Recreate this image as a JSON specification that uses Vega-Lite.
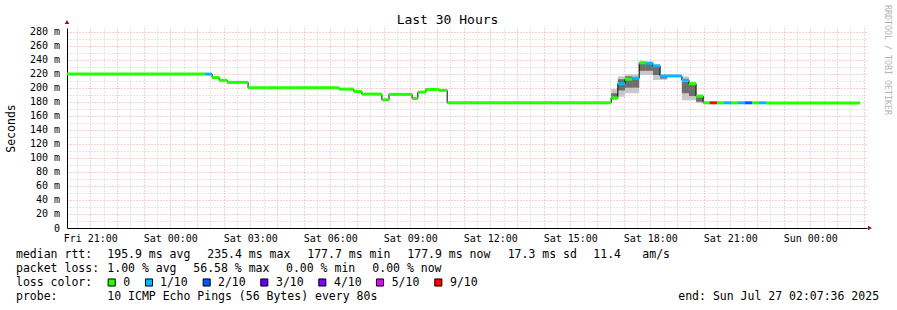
{
  "$schema": "https://vega.github.io/schema/vega-lite/v6.json",
  "width": 800,
  "height": 200,
  "autosize": {"type": "none"},
  "padding": {"left": 67, "top": 28, "right": 30, "bottom": 82},
  "background": "white",
  "title": {"text": "Last 30 Hours", "anchor": "middle", "frame": "group", "dx": -19.5, "offset": -22.2, "font": "DejaVu Sans Mono", "fontSize": 13, "fontWeight": "normal", "color": "#000000"},
  "config": {"view": {"stroke": null}, "font": "DejaVu Sans Mono"},
  "datasets": {
    "seg": [
      {"t0": "2025-07-25T20:07:36", "t1": "2025-07-26T01:18:00", "v": 219.3, "loss": "0"},
      {"t0": "2025-07-26T01:18:00", "t1": "2025-07-26T01:34:00", "v": 219.3, "loss": "1/10"},
      {"t0": "2025-07-26T01:34:00", "t1": "2025-07-26T01:50:00", "v": 214.5, "loss": "0"},
      {"t0": "2025-07-26T01:50:00", "t1": "2025-07-26T02:08:00", "v": 210.5, "loss": "0"},
      {"t0": "2025-07-26T02:08:00", "t1": "2025-07-26T02:55:00", "v": 207.5, "loss": "0"},
      {"t0": "2025-07-26T02:55:00", "t1": "2025-07-26T06:20:00", "v": 199.8, "loss": "0"},
      {"t0": "2025-07-26T06:20:00", "t1": "2025-07-26T06:53:00", "v": 197.9, "loss": "0"},
      {"t0": "2025-07-26T06:53:00", "t1": "2025-07-26T07:11:00", "v": 194.5, "loss": "0"},
      {"t0": "2025-07-26T07:11:00", "t1": "2025-07-26T07:56:00", "v": 190.8, "loss": "0"},
      {"t0": "2025-07-26T07:56:00", "t1": "2025-07-26T08:12:00", "v": 182.7, "loss": "0"},
      {"t0": "2025-07-26T08:12:00", "t1": "2025-07-26T09:04:00", "v": 190.4, "loss": "0"},
      {"t0": "2025-07-26T09:04:00", "t1": "2025-07-26T09:17:00", "v": 184.6, "loss": "0"},
      {"t0": "2025-07-26T09:17:00", "t1": "2025-07-26T09:35:00", "v": 193.6, "loss": "0"},
      {"t0": "2025-07-26T09:35:00", "t1": "2025-07-26T10:05:00", "v": 197.5, "loss": "0"},
      {"t0": "2025-07-26T10:05:00", "t1": "2025-07-26T10:23:00", "v": 196.1, "loss": "0"},
      {"t0": "2025-07-26T10:23:00", "t1": "2025-07-26T16:32:00", "v": 178.4, "loss": "0"},
      {"t0": "2025-07-26T16:32:00", "t1": "2025-07-26T16:47:00", "v": 185.5, "loss": "0"},
      {"t0": "2025-07-26T16:47:00", "t1": "2025-07-26T17:03:00", "v": 205.6, "loss": "1/10"},
      {"t0": "2025-07-26T17:03:00", "t1": "2025-07-26T17:19:00", "v": 212.0, "loss": "0"},
      {"t0": "2025-07-26T17:19:00", "t1": "2025-07-26T17:35:00", "v": 213.4, "loss": "1/10"},
      {"t0": "2025-07-26T17:35:00", "t1": "2025-07-26T17:50:00", "v": 235.4, "loss": "0"},
      {"t0": "2025-07-26T17:50:00", "t1": "2025-07-26T18:06:00", "v": 234.8, "loss": "1/10"},
      {"t0": "2025-07-26T18:06:00", "t1": "2025-07-26T18:22:00", "v": 231.0, "loss": "1/10"},
      {"t0": "2025-07-26T18:22:00", "t1": "2025-07-26T19:11:00", "v": 216.7, "loss": "1/10"},
      {"t0": "2025-07-26T19:11:00", "t1": "2025-07-26T19:27:00", "v": 210.6, "loss": "1/10"},
      {"t0": "2025-07-26T19:27:00", "t1": "2025-07-26T19:43:00", "v": 205.6, "loss": "0"},
      {"t0": "2025-07-26T19:43:00", "t1": "2025-07-26T19:59:00", "v": 187.8, "loss": "0"},
      {"t0": "2025-07-26T19:59:00", "t1": "2025-07-26T20:14:00", "v": 178.4, "loss": "0"},
      {"t0": "2025-07-26T20:14:00", "t1": "2025-07-26T20:30:00", "v": 178.4, "loss": "9/10"},
      {"t0": "2025-07-26T20:30:00", "t1": "2025-07-26T20:46:00", "v": 178.4, "loss": "0"},
      {"t0": "2025-07-26T20:46:00", "t1": "2025-07-26T21:02:00", "v": 178.4, "loss": "1/10"},
      {"t0": "2025-07-26T21:02:00", "t1": "2025-07-26T21:17:00", "v": 178.4, "loss": "0"},
      {"t0": "2025-07-26T21:17:00", "t1": "2025-07-26T21:33:00", "v": 178.4, "loss": "1/10"},
      {"t0": "2025-07-26T21:33:00", "t1": "2025-07-26T21:49:00", "v": 178.4, "loss": "2/10"},
      {"t0": "2025-07-26T21:49:00", "t1": "2025-07-26T22:05:00", "v": 178.4, "loss": "0"},
      {"t0": "2025-07-26T22:05:00", "t1": "2025-07-26T22:21:00", "v": 178.4, "loss": "1/10"},
      {"t0": "2025-07-26T22:21:00", "t1": "2025-07-27T01:52:00", "v": 178.0, "loss": "0"}
    ],
    "smoke": [
      {"t0": "2025-07-26T16:32:00", "t1": "2025-07-26T16:47:00", "v": 182, "v2": 198, "band": "outer"},
      {"t0": "2025-07-26T16:47:00", "t1": "2025-07-26T17:03:00", "v": 187, "v2": 216, "band": "outer"},
      {"t0": "2025-07-26T17:03:00", "t1": "2025-07-26T17:19:00", "v": 192, "v2": 219, "band": "outer"},
      {"t0": "2025-07-26T17:19:00", "t1": "2025-07-26T17:35:00", "v": 192, "v2": 219, "band": "outer"},
      {"t0": "2025-07-26T17:35:00", "t1": "2025-07-26T17:50:00", "v": 218, "v2": 238, "band": "outer"},
      {"t0": "2025-07-26T17:50:00", "t1": "2025-07-26T18:06:00", "v": 218, "v2": 237, "band": "outer"},
      {"t0": "2025-07-26T18:06:00", "t1": "2025-07-26T18:22:00", "v": 211, "v2": 233, "band": "outer"},
      {"t0": "2025-07-26T18:22:00", "t1": "2025-07-26T18:38:00", "v": 211, "v2": 217, "band": "outer"},
      {"t0": "2025-07-26T19:11:00", "t1": "2025-07-26T19:27:00", "v": 182, "v2": 216, "band": "outer"},
      {"t0": "2025-07-26T19:27:00", "t1": "2025-07-26T19:43:00", "v": 182, "v2": 208, "band": "outer"},
      {"t0": "2025-07-26T19:43:00", "t1": "2025-07-26T19:59:00", "v": 178, "v2": 190, "band": "outer"},
      {"t0": "2025-07-26T16:32:00", "t1": "2025-07-26T16:47:00", "v": 184, "v2": 192, "band": "inner"},
      {"t0": "2025-07-26T16:47:00", "t1": "2025-07-26T17:03:00", "v": 196, "v2": 212, "band": "inner"},
      {"t0": "2025-07-26T17:03:00", "t1": "2025-07-26T17:19:00", "v": 200, "v2": 216, "band": "inner"},
      {"t0": "2025-07-26T17:19:00", "t1": "2025-07-26T17:35:00", "v": 200, "v2": 215, "band": "inner"},
      {"t0": "2025-07-26T17:35:00", "t1": "2025-07-26T17:50:00", "v": 224, "v2": 235, "band": "inner"},
      {"t0": "2025-07-26T17:50:00", "t1": "2025-07-26T18:06:00", "v": 224, "v2": 234, "band": "inner"},
      {"t0": "2025-07-26T18:06:00", "t1": "2025-07-26T18:22:00", "v": 218, "v2": 230, "band": "inner"},
      {"t0": "2025-07-26T18:22:00", "t1": "2025-07-26T18:38:00", "v": 213, "v2": 216, "band": "inner"},
      {"t0": "2025-07-26T19:11:00", "t1": "2025-07-26T19:27:00", "v": 192, "v2": 208, "band": "inner"},
      {"t0": "2025-07-26T19:27:00", "t1": "2025-07-26T19:43:00", "v": 188, "v2": 204, "band": "inner"},
      {"t0": "2025-07-26T19:43:00", "t1": "2025-07-26T19:59:00", "v": 180, "v2": 188, "band": "inner"}
    ],
    "arrows": [
      {"t0": "2025-07-25T20:07:36", "v": 293.5, "dir": "up"},
      {"t0": "2025-07-27T02:14:20", "v": 0, "dir": "right"}
    ],
    "legendText": [
      {"row": 1, "col": 0, "text": "median rtt:"},
      {"row": 1, "col": 13.04, "text": "195.9 ms avg"},
      {"row": 1, "col": 27.33, "text": "235.4 ms max"},
      {"row": 1, "col": 41.61, "text": "177.7 ms min"},
      {"row": 1, "col": 55.9, "text": "177.9 ms now"},
      {"row": 1, "col": 70.24, "text": "17.3 ms sd"},
      {"row": 1, "col": 82.47, "text": "11.4"},
      {"row": 1, "col": 89.47, "text": "am/s"},
      {"row": 2, "col": 0, "text": "packet loss:"},
      {"row": 2, "col": 13.04, "text": "1.00 % avg"},
      {"row": 2, "col": 25.33, "text": "56.58 % max"},
      {"row": 2, "col": 38.57, "text": "0.00 % min"},
      {"row": 2, "col": 50.9, "text": "0.00 % now"},
      {"row": 3, "col": 0, "text": "loss color:"},
      {"row": 3, "col": 15.33, "text": "0"},
      {"row": 3, "col": 20.57, "text": "1/10"},
      {"row": 3, "col": 28.86, "text": "2/10"},
      {"row": 3, "col": 37.14, "text": "3/10"},
      {"row": 3, "col": 45.43, "text": "4/10"},
      {"row": 3, "col": 53.67, "text": "5/10"},
      {"row": 3, "col": 62, "text": "9/10"},
      {"row": 4, "col": 0, "text": "probe:"},
      {"row": 4, "col": 13.04, "text": "10 ICMP Echo Pings (56 Bytes) every 80s"},
      {"row": 4, "col": 94.61, "text": "end: Sun Jul 27 02:07:36 2025"}
    ],
    "swatches": [
      {"row": 2.75, "col": 13.67, "loss": "0"},
      {"row": 2.75, "col": 19, "loss": "1/10"},
      {"row": 2.75, "col": 27.24, "loss": "2/10"},
      {"row": 2.75, "col": 35.47, "loss": "3/10"},
      {"row": 2.75, "col": 43.76, "loss": "4/10"},
      {"row": 2.75, "col": 52, "loss": "5/10"},
      {"row": 2.75, "col": 60.33, "loss": "9/10"}
    ],
    "watermark": [
      {"row": -13.14, "col": 124.43, "text": "RRDTOOL / TOBI OETIKER"}
    ]
  },
  "layer": [
    {
      "encoding": {
        "x": {
          "field": "t0", "type": "temporal",
          "scale": {"domain": [{"year": 2025, "month": 7, "date": 25, "hours": 20, "minutes": 7, "seconds": 36}, {"year": 2025, "month": 7, "date": 27, "hours": 2, "minutes": 7, "seconds": 36}]},
          "axis": {
            "title": null,
            "tickCount": 60,
            "labelExpr": "hours(datum.value) % 3 == 0 && minutes(datum.value) == 0 ? timeFormat(datum.value, '%a %H:%M') : ''",
            "labelOverlap": false, "labelFlush": false, "labelAngle": 0,
            "grid": true,
            "gridColor": {"condition": {"test": "minutes(datum.value) == 0", "value": "#f2a0a0"}, "value": "#cccccc"},
            "gridDash": [1, 2], "gridWidth": 1,
            "ticks": false, "domainColor": "#000000", "domainWidth": 1,
            "labelFont": "DejaVu Sans Mono", "labelFontSize": 10, "labelColor": "#000000",
            "labelPadding": 13, "labelBaseline": "alphabetic"
          }
        },
        "y": {
          "field": "v", "type": "quantitative",
          "scale": {"domain": [0, 285], "nice": false, "zero": true},
          "axis": {
            "title": "Seconds",
            "values": [0, 10, 20, 30, 40, 50, 60, 70, 80, 90, 100, 110, 120, 130, 140, 150, 160, 170, 180, 190, 200, 210, 220, 230, 240, 250, 260, 270, 280],
            "labelExpr": "datum.value % 20 == 0 ? (datum.value == 0 ? '0' : datum.value + ' m') : ''",
            "labelOverlap": false, "labelFlush": false,
            "grid": true,
            "gridColor": {"condition": {"test": "datum.value % 20 == 0", "value": "#f2a0a0"}, "value": "#cccccc"},
            "gridDash": [1, 2], "gridWidth": 1,
            "ticks": false, "domainColor": "#000000", "domainWidth": 1,
            "labelFont": "DejaVu Sans Mono", "labelFontSize": 10, "labelColor": "#000000", "labelPadding": 7.5,
            "titleFont": "DejaVu Sans Mono", "titleFontSize": 11.5, "titleFontWeight": "normal", "titleColor": "#000000",
            "titleX": -56, "titleY": 100, "titleAngle": -90, "titleAlign": "center", "titleBaseline": "middle"
          }
        }
      },
      "layer": [
        {
          "data": {"name": "smoke"},
          "transform": [{"filter": "datum.band == 'outer'"}],
          "mark": {"type": "rect", "color": "#c8c8c8", "opacity": 1},
          "encoding": {"x2": {"field": "t1"}, "y2": {"field": "v2"}}
        },
        {
          "data": {"name": "smoke"},
          "transform": [{"filter": "datum.band == 'inner'"}],
          "mark": {"type": "rect", "color": "#6e6e6e", "opacity": 1},
          "encoding": {"x2": {"field": "t1"}, "y2": {"field": "v2"}}
        },
        {
          "data": {"name": "seg"},
          "mark": {"type": "line", "interpolate": "step-after", "color": "#000000", "strokeWidth": 1},
          "encoding": {}
        },
        {
          "data": {"name": "seg"},
          "mark": {"type": "rule", "strokeWidth": 3, "strokeCap": "butt"},
          "encoding": {
            "x2": {"field": "t1"},
            "color": {"field": "loss", "type": "nominal", "scale": {"domain": ["0", "1/10", "2/10", "3/10", "4/10", "5/10", "9/10"], "range": ["#26ff00", "#00b8ff", "#0059ff", "#5e00ff", "#7e00ff", "#dd00ff", "#ff0000"]}, "legend": null}
          }
        },
        {
          "data": {"name": "arrows"},
          "mark": {"type": "point", "filled": true, "size": 22, "color": "#8b1a1a", "opacity": 1},
          "encoding": {
            "shape": {"field": "dir", "type": "nominal", "scale": {"domain": ["up", "right"], "range": ["triangle-up", "triangle-right"]}, "legend": null}
          }
        }
      ]
    },
    {
      "encoding": {
        "x": {"field": "col", "type": "quantitative", "scale": {"domain": [7.2857, 121.5714], "nice": false, "zero": false}, "axis": null},
        "y": {"field": "row", "type": "quantitative", "scale": {"domain": [-15.4286, -1.1429], "reverse": true, "nice": false, "zero": false}, "axis": null}
      },
      "layer": [
        {
          "data": {"name": "legendText"},
          "mark": {"type": "text", "align": "left", "baseline": "alphabetic", "font": "DejaVu Sans Mono", "fontSize": 11.5, "color": "#000000"},
          "encoding": {"text": {"field": "text"}}
        },
        {
          "data": {"name": "swatches"},
          "mark": {"type": "point", "shape": "square", "filled": true, "size": 50, "stroke": "#000000", "strokeWidth": 1, "opacity": 1},
          "encoding": {
            "color": {"field": "loss", "type": "nominal", "scale": {"domain": ["0", "1/10", "2/10", "3/10", "4/10", "5/10", "9/10"], "range": ["#26ff00", "#00b8ff", "#0059ff", "#5e00ff", "#7e00ff", "#dd00ff", "#ff0000"]}, "legend": null}
          }
        },
        {
          "data": {"name": "watermark"},
          "mark": {"type": "text", "angle": 90, "align": "center", "baseline": "middle", "font": "DejaVu Sans Mono", "fontSize": 8.3, "color": "#b4b4b4"},
          "encoding": {"text": {"field": "text"}}
        }
      ]
    }
  ],
  "resolve": {"scale": {"x": "independent", "y": "independent"}}
}
